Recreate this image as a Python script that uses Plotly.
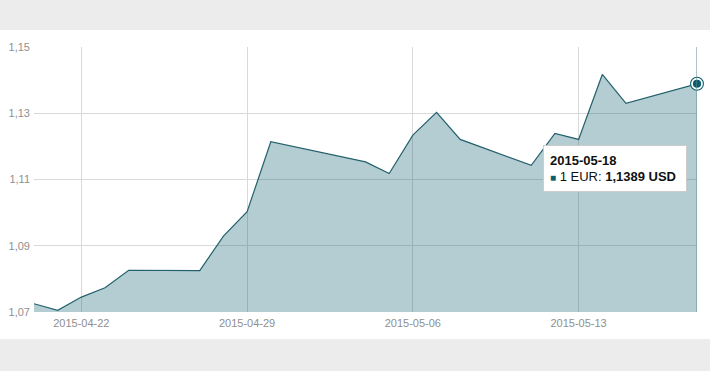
import plotly.graph_objects as go

dates = ["2015-04-20", "2015-04-21", "2015-04-22", "2015-04-23", "2015-04-24",
         "2015-04-27", "2015-04-28", "2015-04-29", "2015-04-30",
         "2015-05-04", "2015-05-05", "2015-05-06", "2015-05-07", "2015-05-08",
         "2015-05-11", "2015-05-12", "2015-05-13", "2015-05-14", "2015-05-15",
         "2015-05-18"]
rates = [1.0725, 1.0705, 1.0745, 1.0773, 1.0826,
         1.0825, 1.0929, 1.1003, 1.1214,
         1.1153, 1.1118, 1.1234, 1.1303, 1.1221,
         1.1143, 1.1239, 1.1221, 1.1417, 1.1330,
         1.1389]
y_ticks = [1.07, 1.09, 1.11, 1.13, 1.15]
x_ticks = ["2015-04-22", "2015-04-29", "2015-05-06", "2015-05-13"]

LINE = "#23606b"
DOT = "#0d5e6c"
FILL = "rgba(2,88,108,0.30)"
GRID = "#d9d9d9"
TICK = "#8f8f8f"

fig = go.Figure()
fig.add_trace(go.Scatter(
    x=dates, y=rates, mode="lines", fill="tozeroy", fillcolor=FILL,
    line=dict(color=LINE, width=1.2), hoverinfo="skip", showlegend=False))
# highlighted last point (outer ring + inner dot)
fig.add_trace(go.Scatter(
    x=[dates[-1]], y=[rates[-1]], mode="markers",
    marker=dict(size=14, color=DOT, line=dict(width=0)),
    hoverinfo="skip", showlegend=False, cliponaxis=False))
fig.add_trace(go.Scatter(
    x=[dates[-1]], y=[rates[-1]], mode="markers",
    marker=dict(size=10, color=DOT, line=dict(width=1.8, color="white")),
    hoverinfo="skip", showlegend=False, cliponaxis=False))

label = f"{rates[-1]:.4f}".replace(".", ",")
fig.add_annotation(
    xref="paper", yref="paper", x=0.7677, y=0.6302,
    xanchor="left", yanchor="top", align="left", showarrow=False,
    text=(f"<b>{dates[-1]}</b><br>"
          f"<span style='color:{DOT};font-size:10px'>■</span> 1 EUR: <b>{label} USD</b>"),
    font=dict(family="Liberation Sans, Arial, sans-serif", size=13, color="#111111"),
    bgcolor="white", bordercolor="#cccccc", borderwidth=1, borderpad=6,
    width=130, height=33)

fig.update_layout(
    width=710, height=371,
    margin=dict(l=34, r=13, t=47, b=59, autoexpand=False),
    paper_bgcolor="#ececec", plot_bgcolor="white",
    font=dict(family="Liberation Sans, Arial, sans-serif", size=11, color=TICK),
    separators=",.",
    shapes=[
        dict(type="rect", xref="paper", yref="paper", x0=-0.06, x1=1.03,
             y0=-0.102, y1=1.064, fillcolor="white", line=dict(width=0),
             layer="below"),
        dict(type="line", xref="x", yref="paper", x0=dates[-1], x1=dates[-1],
             y0=0, y1=1, line=dict(color="#5f8a94", width=1), layer="above"),
    ],
    xaxis=dict(
        type="date", range=[dates[0], dates[-1]],
        tickvals=x_ticks, ticktext=x_ticks,
        showgrid=True, gridcolor=GRID, gridwidth=1,
        zeroline=False, showline=False, ticks="", ticklen=0,
        ticklabelstandoff=3, automargin=False,
        tickfont=dict(size=11, color=TICK)),
    yaxis=dict(
        range=[y_ticks[0], y_ticks[-1]], tickvals=y_ticks,
        tickformat=".2f",
        showgrid=True, gridcolor=GRID, gridwidth=1,
        zeroline=False, showline=False, ticks="",
        ticklabelstandoff=3, automargin=False,
        tickfont=dict(size=11, color=TICK)),
)

fig.write_html("out.html")
